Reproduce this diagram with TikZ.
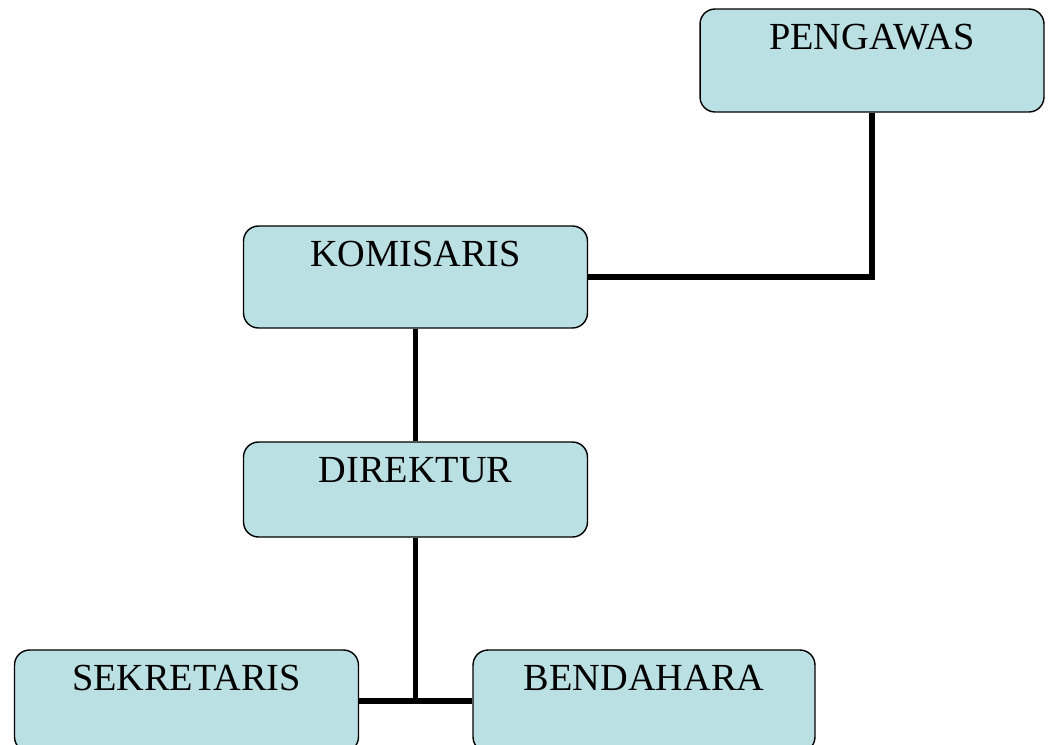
\documentclass[tikz,border=0pt]{standalone}
\usepackage{fontspec}
\setmainfont{Liberation Serif}
\usetikzlibrary{positioning}
\definecolor{boxblue}{RGB}{187,224,227}

\begin{document}
\begin{tikzpicture}[x=0.02cm,y=-0.02cm]%
\useasboundingbox (0,0) rectangle (1050,744);%
\clip (0,0) rectangle (1050,744);%
\begin{scope}[shape=rectangle,rounded corners=0.3cm,inner sep=0pt]%
\tikzstyle{every node}=[draw,line width=0.8pt,fill=boxblue,font=\fontsize{21.8}{26}\selectfont,text height=0.8cm,minimum width=6.88cm] %%
\node[text depth=1.26cm] (peng) at (872,60.5)  {PENGAWAS}; %%
\node[text depth=1.24cm] (kom) at (415.5,277)  {KOMISARIS}; %%
\node[text depth=1.1cm] (dir) at (415.5,489.5)  {DIREKTUR}; %%
\node[text depth=1.24cm] (sek) at (186.5,701)  {SEKRETARIS}; %%
\node[text depth=1.24cm,minimum width=6.84cm] (bend) at (644,701)  {BENDAHARA}; %%
\end{scope}
\begin{scope}[line width=0.11cm]%
\draw (peng.south) |- (kom.east); %%
\draw (kom.south)--(dir.north); %%
\draw (dir.south)--(dir.south |- sek.east); %%
\draw (sek.east)--(bend.west); %%
\end{scope}
\end{tikzpicture}
\end{document}
